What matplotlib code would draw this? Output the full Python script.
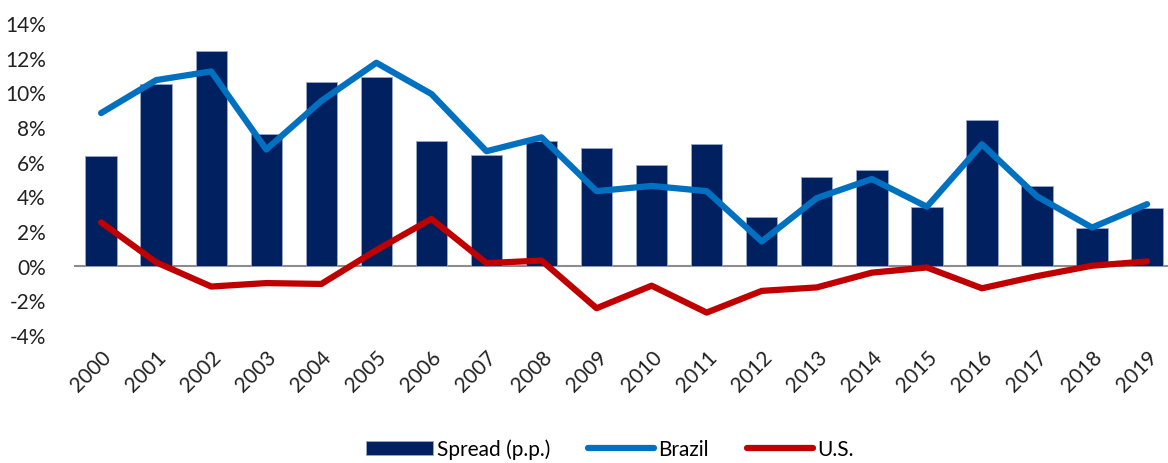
import numpy as np
import matplotlib
matplotlib.use("Agg")
import matplotlib.pyplot as plt
from matplotlib.ticker import FuncFormatter

years = [str(y) for y in range(2000, 2020)]
spread = [6.3, 10.5, 12.4, 7.6, 10.6, 10.9, 7.2, 6.4, 7.2, 6.8,
          5.8, 7.0, 2.8, 5.1, 5.5, 3.4, 8.4, 4.6, 2.2, 3.3]
brazil = [8.8, 10.7, 11.2, 6.7, 9.5, 11.7, 9.9, 6.6, 7.4, 4.3,
          4.6, 4.3, 1.4, 3.9, 5.0, 3.4, 7.0, 4.0, 2.2, 3.55]
us = [2.5, 0.2, -1.2, -1.0, -1.05, 0.9, 2.7, 0.15, 0.3, -2.45,
      -1.15, -2.7, -1.45, -1.25, -0.4, -0.1, -1.3, -0.6, 0.0, 0.25]

plt.rcParams['font.family'] = ['Lato', 'DejaVu Sans']

fig = plt.figure(figsize=(11.68, 4.64), dpi=100)
ax = fig.add_axes([0.063, 0.2756, 0.937, 0.673])

x = np.arange(len(years))
bars = ax.bar(x, spread, width=0.57, color='#002060', edgecolor='#9aa6c4', linewidth=0.6,
              label='Spread (p.p.)', zorder=2)
l_br, = ax.plot(x, brazil, color='#0070C0', lw=4.5, solid_capstyle='round',
                solid_joinstyle='round', label='Brazil', zorder=3)
l_us, = ax.plot(x, us, color='#C00000', lw=4.5, solid_capstyle='round',
                solid_joinstyle='round', label='U.S.', zorder=3)

ax.axhline(0, color='#8c8c8c', lw=1.5, zorder=1)

ax.set_xlim(-0.5, 19.38)
ax.set_ylim(-4, 14)
ax.set_yticks(np.arange(-4, 15, 2))
ax.yaxis.set_major_formatter(FuncFormatter(lambda v, p: f"{v:.0f}%"))
ax.set_xticks(x)
ax.set_xticklabels(years, rotation=45, ha='right', rotation_mode='anchor')

for s in ax.spines.values():
    s.set_visible(False)
ax.tick_params(axis='both', length=0, labelsize=15, colors='#222222')
ax.tick_params(axis='y', pad=20)
ax.tick_params(axis='x', pad=8)

ax.legend([bars, l_br, l_us], ['Spread (p.p.)', 'Brazil', 'U.S.'],
          loc='center', bbox_to_anchor=(0.49, -0.365), ncol=3, frameon=False,
          fontsize=15, handlelength=3.2, handleheight=0.6, handletextpad=0.2,
          columnspacing=1.8)

fig.savefig('out.png', dpi=100)
